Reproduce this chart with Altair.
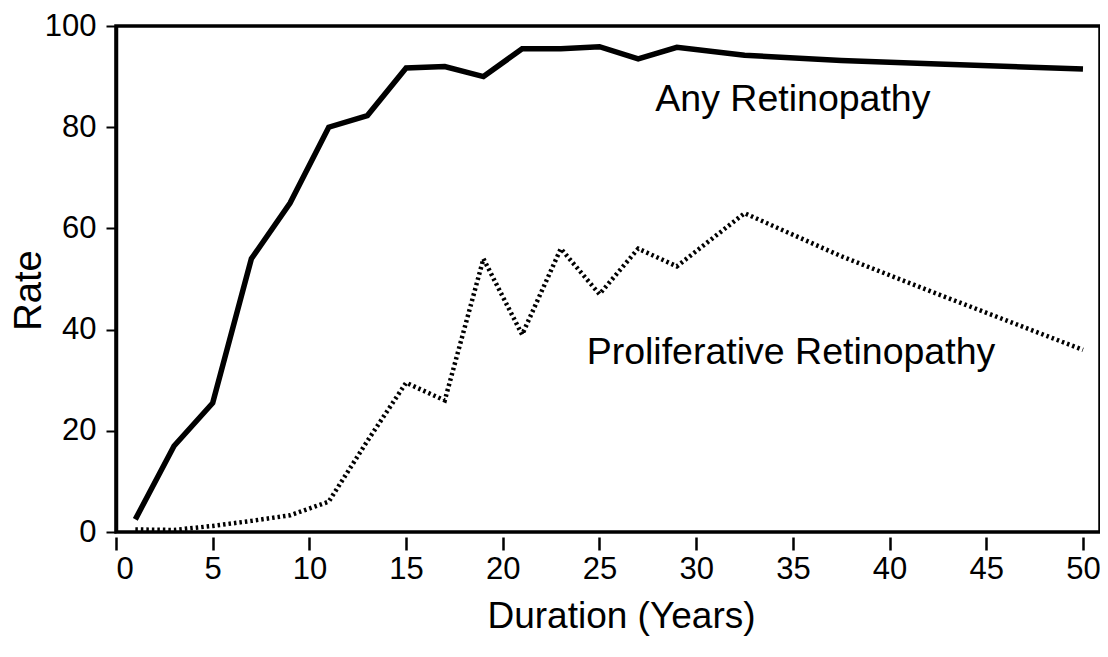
import altair as alt
import pandas as pd

# ---- data ----
durations = [1, 3, 5, 7, 9, 11, 13, 15, 17, 19, 21, 23, 25, 27, 29, 32.5, 37.5, 42.5, 50]
any_rate = [2.5, 17, 25.5, 54, 65, 80, 82.3, 91.7, 92, 90, 95.5, 95.5, 95.9, 93.5, 95.8, 94.2, 93.2, 92.5, 91.5]
prolif_rate = [0.5, 0.4, 1.2, 2.2, 3.3, 6, 18, 29.5, 26, 54, 39, 56, 47, 56, 52.5, 63, 54.5, 47, 36]
series_names = ["Any Retinopathy", "Proliferative Retinopathy"]
x_ticks = [0, 5, 10, 15, 20, 25, 30, 35, 40, 45, 50]
y_ticks = [0, 20, 40, 60, 80, 100]
label_x = [35.0, 34.9]
label_y = [83.3, 33.3]

rows = []
for d, a, p in zip(durations, any_rate, prolif_rate):
    rows.append({"Duration": d, "Rate": a, "Series": series_names[0]})
    rows.append({"Duration": d, "Rate": p, "Series": series_names[1]})
df = pd.DataFrame(rows)
labels = pd.DataFrame({"Duration": label_x, "Rate": label_y, "Label": series_names})

FONT = "Liberation Sans, Arial, Helvetica, sans-serif"

x_enc = alt.X(
    "Duration:Q",
    scale=alt.Scale(domain=[0, 50.88], nice=False, zero=False),
    axis=alt.Axis(
        values=x_ticks, title="Duration (Years)", grid=False, domain=False,
        offset=5, tickSize=13, tickWidth=2.5, tickColor="black",
        labelFontSize=31, labelPadding=4, labelColor="black", labelFont=FONT,
        titleFontSize=37, titleFont=FONT, titleFontWeight="normal", titleColor="black",
        titleX=505, titleY=90, titleBaseline="alphabetic", titleAlign="center",
    ),
)
y_enc = alt.Y(
    "Rate:Q",
    scale=alt.Scale(domain=[0, 100], nice=False),
    axis=alt.Axis(
        values=y_ticks, title="Rate", grid=False, domain=True,
        domainColor="black", domainWidth=3.5,
        tickSize=10, tickWidth=2, tickColor="black",
        labelFontSize=31, labelPadding=10, labelColor="black", labelFont=FONT,
        titleFontSize=38, titleFont=FONT, titleFontWeight="normal", titleColor="black",
        titleX=-76, titleY=264, titleBaseline="alphabetic", titleAlign="center", titleAngle=270,
    ),
)

solid = alt.Chart(df).transform_filter(
    alt.datum.Series == series_names[0]
).mark_line(color="black", strokeWidth=5.5, strokeJoin="miter").encode(
    x=x_enc, y=y_enc, order="Duration:Q"
)

dotted = alt.Chart(df).transform_filter(
    alt.datum.Series == series_names[1]
).mark_line(color="black", strokeWidth=4.5, strokeDash=[2.5, 3]).encode(
    x=x_enc, y=y_enc, order="Duration:Q"
)

text = alt.Chart(labels).mark_text(
    fontSize=37.5, font=FONT, color="black", align="center", baseline="alphabetic"
).encode(x=x_enc, y=y_enc, text="Label:N")

chart = alt.layer(solid, dotted, text).properties(
    width=984, height=506,
    background="white",
    autosize=alt.AutoSizeParams(type="none"),
    padding={"left": 108, "top": 18, "right": 0, "bottom": 110},
).configure_view(
    stroke="black", strokeWidth=3.5
)

chart.save("out.html", embed_options={"renderer": "svg", "actions": False})
